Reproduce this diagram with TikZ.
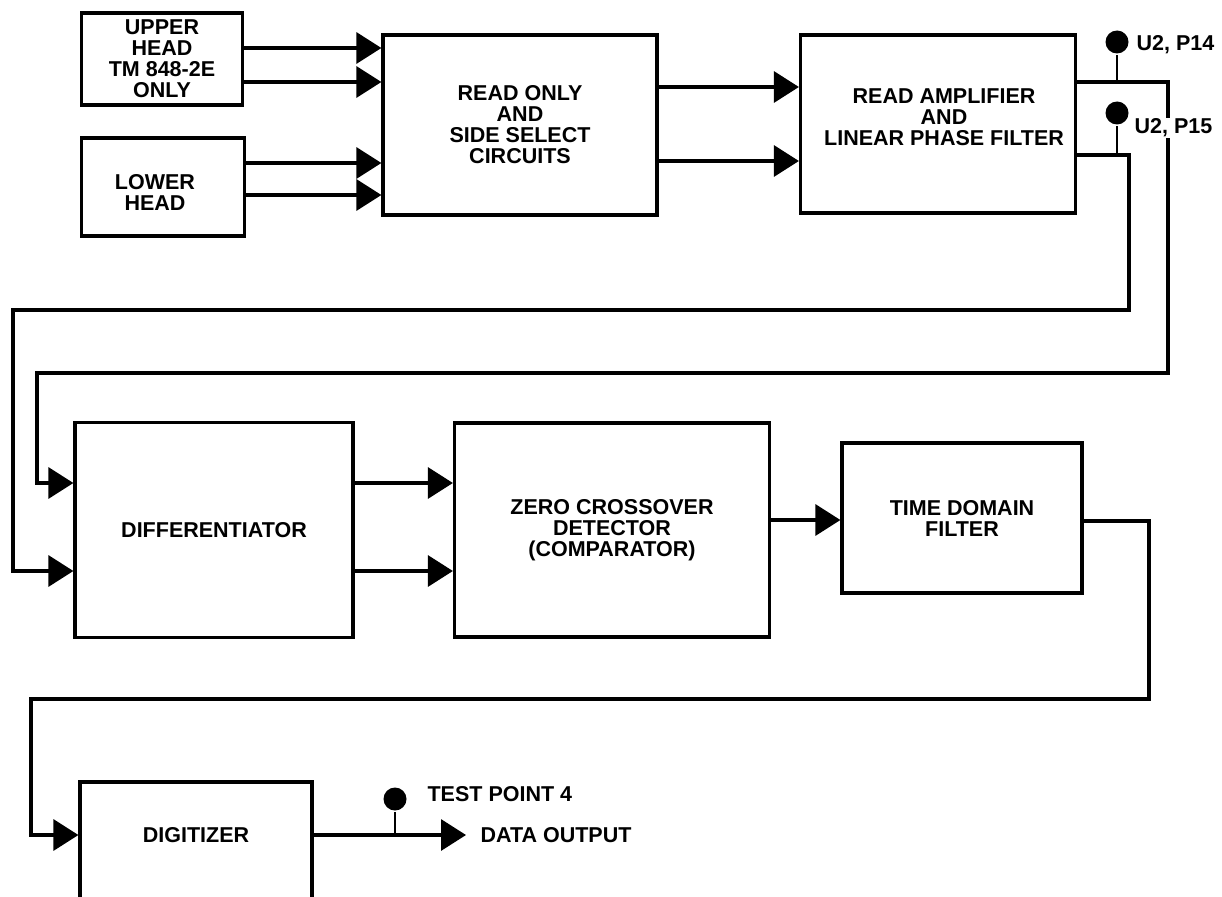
\documentclass[tikz,border=0pt]{standalone}
\usepackage{fontspec}
\setmainfont{Liberation Sans}
\usetikzlibrary{arrows.meta}

\begin{document}
\begin{tikzpicture}[x=1pt, y=-1pt, line width=3.2pt,
  font=\fontsize{21.5}{21}\selectfont\bfseries,
  blk/.style={draw, rectangle, align=center, inner sep=0pt},
  sig/.style={-{Triangle[length=25pt,width=31pt]}},
  probe/.style={circle, fill, inner sep=0pt, minimum size=23pt},
  tag/.style={anchor=west, inner sep=1pt}]
%% page 1222 x 896, y runs downwards
\useasboundingbox (0,0) rectangle (1222,896);
\clip (0,0) rectangle (1222,896);

%% --- blocks ---
\node[blk, minimum width=161, minimum height=92]  (upper) at (162,59)  {UPPER\\HEAD\\TM 848-2E\\ONLY};
\node[blk, minimum width=163, minimum height=98,
      label={[xshift=-8pt, yshift=-5pt, align=center]center:LOWER\\HEAD}] (lower) at (163,187) {};
\node[blk, minimum width=274, minimum height=180] (rosel) at (520,125) {READ ONLY\\AND\\SIDE SELECT\\CIRCUITS};
\node[blk, minimum width=275, minimum height=178,
      label={[xshift=6pt, yshift=7pt, align=center]center:READ AMPLIFIER\\AND\\LINEAR PHASE FILTER}] (ampl) at (938,124) {};
\node[blk, minimum width=278, minimum height=215] (diff)  at (214,530) {DIFFERENTIATOR};
\node[blk, minimum width=315, minimum height=214] (zcd)   at (612,530) {ZERO CROSSOVER\\DETECTOR\\(COMPARATOR)};
\node[blk, minimum width=240, minimum height=150] (tdf)   at (962,518) {TIME DOMAIN\\FILTER};
\node[blk, minimum width=232, minimum height=148,
      label={[yshift=21pt]center:DIGITIZER}]      (digit) at (196,856) {};

%% --- heads into read only ---
\foreach \y in {48,82}{
  \draw[sig] (upper.east |- 0,\y) -- (rosel.west |- 0,\y);
}
\foreach \y in {163,195}{
  \draw[sig] (lower.east |- 0,\y) -- (rosel.west |- 0,\y);
}
\foreach \y in {87,161}{
  \draw[sig] (rosel.east |- 0,\y) -- (ampl.west |- 0,\y);
}

%% --- return lines to the differentiator ---
\draw[sig] (ampl.east |- 0,82) -| (1168,373) -| (37,483) -- (diff.west |- 0,483);
\draw[sig] (ampl.east |- 0,155) -| (1129,310) -| (13,571) -- (diff.west |- 0,571);

\foreach \y in {483,571}{
  \draw[sig] (diff.east |- 0,\y) -- (zcd.west |- 0,\y);
}
\draw[sig] (zcd.east |- 0,520) -- (tdf.west |- 0,520);
\draw[sig] (tdf.east |- 0,521) -| (1149,699) -| (31,835) -- (digit.west |- 0,835);

%% --- output ---
\node[tag] (dout) at (478,835) {DATA OUTPUT};
\draw[sig] (digit.east |- 0,835) -- ([xshift=-12pt]dout.west);

%% --- test points ---
\node[probe] (tp14) at (1117,42)  {};
\node[probe] (tp15) at (1117,113) {};
\node[probe] (tp4)  at (395,799)  {};
\draw[line width=2.4pt] (tp14) -- (tp14 |- 0,82);
\draw[line width=2.4pt] (tp15) -- (tp15 |- 0,155);
\draw[line width=2.4pt] (tp4)  -- (tp4 |- 0,835);
\node[tag] (l14) at (1134,45)  {U2, P14};
\node[tag, fill=white] (l15) at (1132,128) {U2, P15};
\node[tag] (l4)  at (425,794)  {TEST POINT 4};
\end{tikzpicture}
\end{document}
